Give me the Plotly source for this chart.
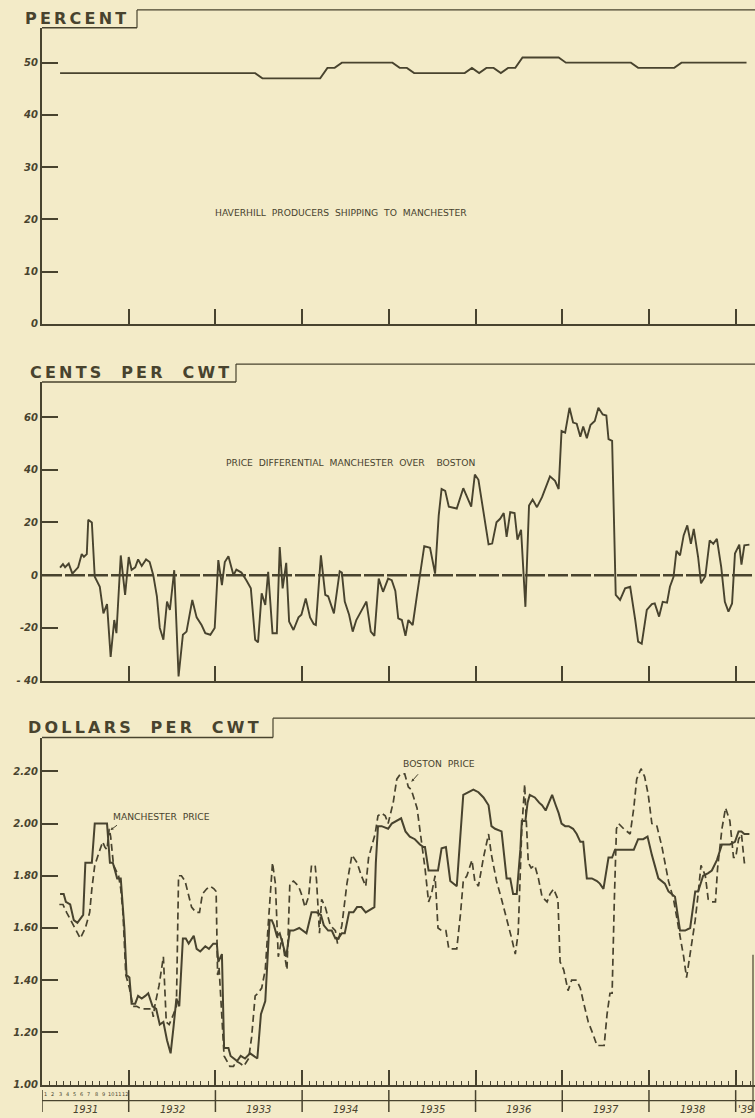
import plotly.graph_objects as go

# ---------------- data ----------------
# Panel 1: percent of Haverhill producers shipping to Manchester, monthly from Mar 1931
pct_start_year, pct_start_month = 1931, 3
pct_values = ([48] * 28 + [47] * 9 + [49] * 2 + [50] * 8 + [49] * 2 + [48] * 8 +
              [49, 48, 49, 49, 48, 49, 49] + [51] * 6 + [50] * 10 + [49] * 6 + [50] * 10)

# Panel 2: price differential Manchester over Boston (cents/cwt); t = months since Jan 1931
diff_t = [2.5, 2.9, 3.2, 3.7, 4.2, 5.0, 5.5, 5.8, 6.2, 6.4, 6.9, 7.3, 8.0, 8.5, 9.0, 9.5,
          10.0, 10.3, 10.9, 11.5, 12.0, 12.4, 12.9, 13.3, 13.8, 14.4, 14.9, 15.4, 15.9,
          16.3, 16.8, 17.3, 17.7, 18.3, 18.9, 19.5, 20.0, 20.8, 21.4, 22.1, 22.6, 23.3,
          23.9, 24.4, 24.9, 25.3, 25.8, 26.5, 26.9, 27.6, 28.3, 28.9, 29.5, 29.9, 30.4,
          30.9, 31.3, 31.9, 32.5, 32.9, 33.3, 33.8, 34.2, 34.8, 35.5, 35.9, 36.5, 37.1,
          37.6, 37.9, 38.6, 39.2, 39.6, 40.4, 41.2, 41.5, 41.9, 42.5, 43.0, 43.5, 44.1,
          44.9, 45.5, 46.0, 46.6, 47.2, 47.9, 48.4, 48.9, 49.3, 49.8, 50.3, 50.7, 51.3,
          51.9, 52.3, 52.9, 53.7, 54.4, 54.9, 55.3, 55.8, 56.3, 57.4, 58.3, 59.4, 59.9,
          60.4, 61.1, 61.8, 62.3, 62.9, 63.4, 63.9, 64.3, 64.8, 65.4, 65.8, 66.3, 66.9,
          67.4, 67.9, 68.5, 69.2, 70.3, 71.0, 71.5, 71.9, 72.4, 73.0, 73.5, 74.0, 74.5,
          74.9, 75.4, 75.9, 76.5, 77.0, 77.6, 78.1, 78.4, 78.9, 79.4, 80.0, 80.7, 81.4,
          82.1, 82.5, 83.0, 83.7, 84.4, 84.8, 85.4, 85.9, 86.5, 86.9, 87.4, 87.8, 88.3,
          88.8, 89.3, 89.8, 90.2, 90.8, 91.2, 91.8, 92.4, 92.9, 93.4, 94.0, 94.5, 95.0,
          95.5, 95.9, 96.5, 96.8, 97.2, 97.9]
diff_v = [2.9, 4.2, 3.0, 4.4, 0.6, 3.0, 8.0, 7.0, 8.0, 21.0, 20.0, -0.6, -4.4, -14.5, -11.0,
          -31.0, -17.0, -22.0, 7.5, -7.5, 6.9, 2.0, 3.0, 6.0, 3.5, 6.0, 5.0, 0.0, -8.0,
          -20.0, -24.5, -10.0, -13.2, 1.9, -38.4, -22.6, -21.4, -9.4, -16.0, -19.0, -22.0,
          -22.6, -20.0, 5.7, -3.8, 5.0, 7.2, 0.0, 2.1, 1.0, -2.0, -5.0, -24.5, -25.5, -6.9,
          -11.3, 1.3, -22.0, -22.0, 10.7, -5.0, 4.7, -17.6, -20.8, -16.0, -15.0, -8.8,
          -16.0, -18.5, -18.9, 7.5, -7.5, -8.0, -14.5, 1.5, 1.0, -10.0, -15.0, -21.4, -17.0,
          -14.0, -10.0, -21.4, -23.0, -1.3, -6.3, -1.3, -1.9, -6.0, -16.4, -17.0, -23.0,
          -17.0, -18.9, -7.5, -0.6, 11.0, 10.4, 0.6, 22.6, 32.7, 32.0, 26.0, 25.3, 33.0,
          26.0, 38.2, 36.2, 24.5, 11.7, 12.0, 20.1, 21.4, 23.6, 14.5, 23.9, 23.6, 13.5,
          17.2, -12.0, 26.4, 28.7, 25.8, 29.6, 37.5, 35.8, 32.7, 54.7, 54.1, 63.5, 57.9,
          57.5, 52.5, 56.4, 52.0, 57.0, 58.5, 63.5, 61.0, 60.6, 51.6, 51.0, -7.5, -9.4,
          -5.0, -4.4, -17.0, -25.2, -26.0, -13.2, -11.0, -10.7, -15.7, -10.1, -10.4, -4.4,
          -0.6, 9.2, 7.5, 15.1, 18.9, 11.9, 17.6, 6.9, -3.1, -0.4, 13.2, 11.9, 13.8, 3.1,
          -10.1, -13.8, -10.7, 8.2, 11.6, 4.0, 11.3, 11.6]

# Panel 3: Manchester price (solid) and Boston price (dashed), dollars per cwt
man_t = [2.5, 3.0, 3.3, 3.9, 4.4, 4.9, 5.7, 6.0, 6.4, 6.9, 7.3, 7.9, 9.0, 9.4, 9.8, 10.1,
         10.4, 10.9, 11.4, 11.7, 12.1, 12.4, 12.9, 13.3, 13.8, 14.3, 14.7, 15.3, 15.8,
         16.3, 16.8, 17.3, 17.8, 18.2, 18.6, 19.0, 19.5, 19.9, 20.3, 21.0, 21.4, 21.9,
         22.6, 23.1, 23.7, 24.2, 24.4, 24.9, 25.2, 25.5, 25.8, 26.1, 26.5, 27.0, 27.5,
         28.1, 28.8, 29.3, 29.8, 30.3, 30.9, 31.5, 31.8, 32.1, 32.5, 32.9, 33.3, 33.8,
         34.3, 34.8, 35.6, 36.2, 36.6, 37.3, 38.0, 38.6, 39.0, 39.6, 40.1, 40.6, 41.0,
         41.5, 41.9, 42.5, 43.1, 43.6, 44.2, 44.8, 45.4, 46.0, 46.2, 46.5, 47.0, 47.9,
         48.4, 49.0, 49.7, 50.3, 50.9, 51.6, 52.3, 52.8, 53.0, 53.5, 54.8, 55.3, 55.9,
         56.5, 57.4, 58.3, 59.0, 59.7, 60.4, 61.1, 61.8, 62.2, 62.7, 63.6, 64.3, 64.8,
         65.2, 65.7, 66.2, 66.4, 66.9, 67.2, 67.5, 68.2, 68.8, 69.2, 69.7, 70.1, 70.6,
         71.1, 71.5, 71.9, 72.4, 72.9, 73.5, 74.0, 74.5, 74.9, 75.4, 76.1, 76.8, 77.2,
         77.7, 78.4, 78.9, 79.3, 80.0, 81.9, 82.5, 83.2, 83.8, 84.4, 85.3, 85.8, 86.2,
         86.7, 87.2, 87.6, 88.3, 89.0, 89.7, 90.4, 90.8, 91.5, 92.2, 92.7, 93.4, 94.1,
         94.8, 95.2, 95.9, 96.4, 96.8, 97.2, 97.9]
man_v = [1.73, 1.73, 1.70, 1.69, 1.63, 1.62, 1.65, 1.85, 1.85, 1.85, 2.00, 2.00, 2.00, 1.85,
         1.85, 1.82, 1.79, 1.79, 1.60, 1.42, 1.41, 1.31, 1.31, 1.34, 1.33, 1.34, 1.35, 1.30,
         1.29, 1.23, 1.24, 1.17, 1.12, 1.22, 1.33, 1.30, 1.56, 1.56, 1.54, 1.57, 1.52, 1.51,
         1.53, 1.52, 1.54, 1.54, 1.47, 1.50, 1.14, 1.14, 1.14, 1.11, 1.10, 1.09, 1.11, 1.10,
         1.12, 1.11, 1.10, 1.27, 1.32, 1.63, 1.63, 1.61, 1.57, 1.58, 1.54, 1.49, 1.59, 1.59,
         1.60, 1.59, 1.58, 1.66, 1.66, 1.65, 1.61, 1.59, 1.59, 1.56, 1.56, 1.58, 1.58, 1.66,
         1.66, 1.68, 1.68, 1.66, 1.67, 1.68, 1.85, 1.99, 1.99, 1.98, 2.00, 2.01, 2.02, 1.97,
         1.95, 1.94, 1.92, 1.91, 1.91, 1.82, 1.82, 1.905, 1.91, 1.78, 1.76, 2.11, 2.12,
         2.13, 2.12, 2.10, 2.07, 1.99, 1.98, 1.97, 1.79, 1.79, 1.73, 1.73, 1.90, 2.01, 2.01,
         2.08, 2.11, 2.10, 2.08, 2.07, 2.05, 2.08, 2.11, 2.07, 2.04, 2.00, 1.99, 1.99, 1.98,
         1.96, 1.93, 1.93, 1.79, 1.79, 1.78, 1.77, 1.75, 1.87, 1.87, 1.90, 1.90, 1.90, 1.94,
         1.94, 1.95, 1.88, 1.79, 1.78, 1.77, 1.74, 1.73, 1.72, 1.59, 1.59, 1.60, 1.74, 1.74,
         1.80, 1.81, 1.82, 1.86, 1.92, 1.92, 1.92, 1.93, 1.97, 1.97, 1.96, 1.96]
bos_t = [2.4, 2.9, 3.4, 4.0, 5.3, 6.0, 6.6, 6.9, 7.3, 7.9, 8.4, 8.7, 9.0, 9.3, 9.5, 9.9, 10.2,
         10.6, 10.9, 11.2, 11.6, 12.1, 12.6, 13.1, 13.8, 14.5, 15.2, 15.4, 15.6, 16.2, 16.8,
         17.2, 17.6, 18.2, 18.6, 18.9, 19.3, 19.8, 20.3, 20.7, 21.3, 21.8, 22.2, 22.8, 23.3,
         23.8, 24.1, 24.3, 24.5, 25.2, 25.6, 26.0, 26.5, 26.9, 27.5, 27.9, 28.6, 29.0, 29.5,
         29.9, 30.4, 30.9, 31.3, 31.9, 32.3, 32.7, 33.2, 33.5, 33.9, 34.3, 34.8, 35.5, 35.9,
         36.4, 36.9, 37.3, 37.8, 38.0, 38.4, 38.7, 39.2, 39.9, 40.6, 40.9, 41.5, 42.2, 42.9,
         43.6, 44.2, 44.8, 45.2, 45.6, 46.1, 46.5, 47.0, 47.5, 47.9, 48.6, 49.1, 49.6, 50.2,
         50.7, 51.1, 51.9, 52.3, 52.7, 53.0, 53.5, 53.9, 54.4, 54.8, 55.3, 55.9, 56.3, 57.4,
         57.9, 58.3, 58.8, 59.5, 59.9, 60.4, 61.1, 61.8, 62.2, 62.9, 63.6, 64.3, 65.0, 65.5,
         65.9, 66.4, 66.8, 66.9, 67.3, 67.7, 68.2, 68.7, 69.2, 69.9, 70.3, 70.8, 71.4, 71.7,
         72.2, 72.8, 73.3, 74.0, 74.5, 74.9, 75.6, 76.3, 76.8, 77.8, 78.2, 78.6, 78.9, 79.2,
         79.5, 79.8, 80.5, 81.4, 81.9, 82.3, 82.9, 83.4, 83.9, 84.4, 85.1, 85.8, 86.2, 86.7,
         87.4, 88.1, 88.8, 89.2, 89.7, 90.4, 90.8, 91.2, 91.8, 92.2, 92.7, 93.2, 93.5, 94.1,
         94.6, 95.2, 95.7, 96.0, 96.4, 96.8, 97.2, 97.7]
bos_v = [1.69, 1.69, 1.66, 1.63, 1.56, 1.60, 1.66, 1.75, 1.84, 1.89, 1.93, 1.91, 1.90, 1.98,
         1.95, 1.84, 1.82, 1.80, 1.75, 1.66, 1.42, 1.37, 1.30, 1.30, 1.29, 1.29, 1.29, 1.26,
         1.30, 1.38, 1.49, 1.24, 1.23, 1.27, 1.30, 1.80, 1.80, 1.78, 1.73, 1.68, 1.66, 1.66,
         1.73, 1.75, 1.76, 1.75, 1.74, 1.42, 1.45, 1.11, 1.09, 1.07, 1.07, 1.09, 1.08, 1.07,
         1.10, 1.18, 1.34, 1.35, 1.37, 1.44, 1.61, 1.85, 1.77, 1.49, 1.56, 1.50, 1.44, 1.77,
         1.78, 1.76, 1.73, 1.68, 1.72, 1.84, 1.84, 1.78, 1.58, 1.71, 1.68, 1.61, 1.59, 1.54,
         1.61, 1.77, 1.88, 1.85, 1.80, 1.76, 1.87, 1.91, 1.96, 2.03, 2.04, 2.03, 2.00, 2.08,
         2.17, 2.19, 2.19, 2.14, 2.13, 2.06, 1.98, 1.89, 1.83, 1.70, 1.73, 1.80, 1.60, 1.59,
         1.59, 1.52, 1.52, 1.65, 1.78, 1.80, 1.86, 1.78, 1.76, 1.87, 1.96, 1.88, 1.78, 1.71,
         1.64, 1.56, 1.50, 1.58, 1.98, 2.15, 2.08, 1.85, 1.83, 1.84, 1.79, 1.72, 1.70, 1.73,
         1.75, 1.71, 1.47, 1.44, 1.36, 1.40, 1.40, 1.37, 1.32, 1.24, 1.19, 1.15, 1.15, 1.27,
         1.35, 1.35, 1.70, 1.98, 2.00, 1.98, 1.96, 2.06, 2.17, 2.21, 2.18, 2.11, 2.00, 1.99,
         1.91, 1.85, 1.78, 1.71, 1.60, 1.49, 1.41, 1.50, 1.63, 1.73, 1.84, 1.80, 1.71, 1.70,
         1.70, 1.83, 1.98, 2.06, 2.01, 1.87, 1.87, 1.94, 1.96, 1.85, 1.85]

years = [1931, 1932, 1933, 1934, 1935, 1936, 1937, 1938]
year_labels = ["1931", "1932", "1933", "1934", "1935", "1936", "1937", "1938"]
month_labels = [str(i) for i in range(1, 13)]

pct_ticks = [0, 10, 20, 30, 40, 50]
diff_ticks = [-40, -20, 0, 20, 40, 60]
diff_ticktext = ["- 40", "-20", "0", "20", "40", "60"]
price_ticks = [1.00, 1.20, 1.40, 1.60, 1.80, 2.00, 2.20]
price_ticktext = ["1.00", "1.20", "1.40", "1.60", "1.80", "2.00", "2.20"]

titles = ["PERCENT", "CENTS PER CWT", "DOLLARS PER CWT"]

# ---------------- helpers ----------------
def t2x(ts):
    return [1931 + t / 12 for t in ts]


def spaced(title, gap):
    thin = "\u2009"
    words = title.split(" ")
    return (" " * gap + thin).join(thin.join(w) for w in words)


pct_x = [pct_start_year + (pct_start_month - 1 + i + 0.5) / 12 for i in range(len(pct_values))]

BG = "#f3ebc8"
INK = "#48432e"
FONT = "DejaVu Sans"
W, H, L = 755, 1118, 42


def pyp(p):  # pixel row -> paper y
    return 1 - p / H


def pxp(p):  # pixel column -> paper x
    return (p - L) / (W - L)


X_RANGE = [1931, 1931 + (W - L) / 86.71]

fig = go.Figure()
fig.add_trace(go.Scatter(x=pct_x, y=pct_values, mode="lines",
                         line=dict(color=INK, width=1.9), xaxis="x", yaxis="y"))
fig.add_trace(go.Scatter(x=t2x(diff_t), y=diff_v, mode="lines",
                         line=dict(color=INK, width=1.9), xaxis="x2", yaxis="y2"))
fig.add_trace(go.Scatter(x=t2x(man_t), y=man_v, mode="lines",
                         line=dict(color=INK, width=2), xaxis="x3", yaxis="y3"))
fig.add_trace(go.Scatter(x=t2x(bos_t), y=bos_v, mode="lines",
                         line=dict(color=INK, width=1.7, dash="7px,4px"), xaxis="x3", yaxis="y3"))

tickfont = dict(family=FONT, size=10, color=INK, style="italic", weight="bold")
common_x = dict(range=X_RANGE, showgrid=False, zeroline=False, showline=True, linecolor=INK,
                linewidth=2, ticks="inside", ticklen=15, tickwidth=1.5, tickcolor=INK,
                tickmode="array", tickvals=years[1:] + [1939], showticklabels=False,
                domain=[0, 1])
common_y = dict(showgrid=False, zeroline=False, showline=True, linecolor=INK, linewidth=2,
                ticks="inside", ticklen=16, tickwidth=1.5, tickcolor=INK, tickfont=tickfont,
                tickmode="array")

d1 = [pyp(325.5), pyp(28)]
d2 = [pyp(684.5), pyp(384)]
d3 = [pyp(1090.5), pyp(741.5)]

fig.update_layout(
    width=W, height=H, margin=dict(l=L, r=0, t=0, b=0),
    paper_bgcolor=BG, plot_bgcolor=BG, showlegend=False,
    xaxis=dict(common_x, anchor="y"),
    xaxis2=dict(common_x, anchor="y2"),
    xaxis3=dict(common_x, anchor="y3",
                minor=dict(ticks="inside", ticklen=4, tickwidth=1, tickcolor=INK,
                           dtick=1 / 12, tick0=1931, showgrid=False)),
    yaxis=dict(common_y, domain=d1, range=[0, 297.5 / 5.25], tickvals=pct_ticks,
               ticktext=[str(v) for v in pct_ticks], anchor="x"),
    yaxis2=dict(common_y, domain=d2, range=[-(684.5 - 578.3) / 2.65, (578.3 - 384) / 2.65],
                tickvals=diff_ticks, ticktext=diff_ticktext, anchor="x2"),
    yaxis3=dict(common_y, domain=d3, range=[1.0, 1.0 + (1090.5 - 741.5) / 262.5],
                tickvals=price_ticks, ticktext=price_ticktext, anchor="x3"),
)

shapes = []
thin_line = dict(color=INK, width=1.2)
# title frames: (box right px, top px, plot top px)
for right, top, ptop in [(137, 10, 28), (236, 366, 384), (273, 722, 741.5)]:
    shapes.append(dict(type="line", xref="paper", yref="paper", x0=pxp(right), x1=1.0,
                       y0=pyp(top), y1=pyp(top), line=thin_line))
    shapes.append(dict(type="line", xref="paper", yref="paper", x0=pxp(right), x1=pxp(right),
                       y0=pyp(top), y1=pyp(ptop), line=thin_line))
    shapes.append(dict(type="line", xref="paper", yref="paper", x0=0, x1=pxp(right),
                       y0=pyp(ptop), y1=pyp(ptop), line=dict(color=INK, width=1.5)))
# zero line on differential panel
shapes.append(dict(type="line", xref="x2 domain", yref="y2", x0=0, x1=1, y0=0, y1=0,
                   line=dict(color=INK, width=2.5, dash="20px,3px")))
# calendar strip under the price panel
shapes.append(dict(type="line", xref="paper", yref="paper", x0=0, x1=1,
                   y0=pyp(1106.5), y1=pyp(1106.5), line=dict(color=INK, width=1.2)))
for yr in years + [1939]:
    shapes.append(dict(type="line", xref="x3", yref="paper", x0=yr, x1=yr,
                       y0=pyp(1096), y1=0, line=dict(color=INK, width=1.5)))
shapes.append(dict(type="line", xref="paper", yref="paper", x0=pxp(753), x1=pxp(753),
                   y0=pyp(960), y1=0, line=dict(color=INK, width=1.2)))
fig.update_layout(shapes=shapes)

ann = []
title_font = dict(family=FONT, size=16, color=INK, weight="bold")
for text, left, cy, gap in zip(titles, [23, 28, 26], [19, 375, 731.5], [2, 3, 3]):
    ann.append(dict(text=spaced(text, gap), xref="paper", yref="paper", x=pxp(left), y=pyp(cy),
                    xanchor="left", yanchor="middle", showarrow=False, font=title_font))
small = dict(family=FONT, size=9.2, color=INK)
ann.append(dict(text="HAVERHILL  PRODUCERS  SHIPPING  TO  MANCHESTER", xref="x", yref="y",
                x=1934.45, y=21.4, showarrow=False, font=small))
ann.append(dict(text="PRICE  DIFFERENTIAL  MANCHESTER  OVER    BOSTON", xref="x2", yref="y2",
                x=1934.56, y=42.8, showarrow=False, font=small))
ann.append(dict(text="MANCHESTER  PRICE", xref="x3", yref="y3", x=1932.38, y=2.028,
                showarrow=False, font=small))
ann.append(dict(text="BOSTON  PRICE", xref="x3", yref="y3", x=1935.58, y=2.23,
                showarrow=False, font=small))
ann.append(dict(text="", xref="x3", yref="y3", x=1931.79, y=1.975, ax=8, ay=-6,
                showarrow=True, arrowhead=2, arrowsize=0.6, arrowwidth=1, arrowcolor=INK))
ann.append(dict(text="", xref="x3", yref="y3", x=1935.26, y=2.16, ax=8, ay=-9,
                showarrow=True, arrowhead=2, arrowsize=0.6, arrowwidth=1, arrowcolor=INK))
year_font = dict(family=FONT, size=10, color=INK, style="italic")
for yr, lab in zip(years, year_labels):
    ann.append(dict(text=lab, xref="x3", yref="paper", x=yr + 0.5, y=pyp(1107.5),
                    yanchor="top", showarrow=False, font=year_font))
ann.append(dict(text="'39", xref="x3", yref="paper", x=1939.11, y=pyp(1107.5),
                yanchor="top", showarrow=False, font=year_font))
for i, m in enumerate(month_labels):
    ann.append(dict(text=m, xref="x3", yref="paper", x=1931 + (i + 0.5) / 12, y=pyp(1100),
                    yanchor="middle", showarrow=False,
                    font=dict(family=FONT, size=5, color=INK)))
fig.update_layout(annotations=ann)

fig.write_html("out.html", config={"displayModeBar": False},
               post_script="document.body.style.margin='0';"
                           "document.body.style.background='" + BG + "';")
